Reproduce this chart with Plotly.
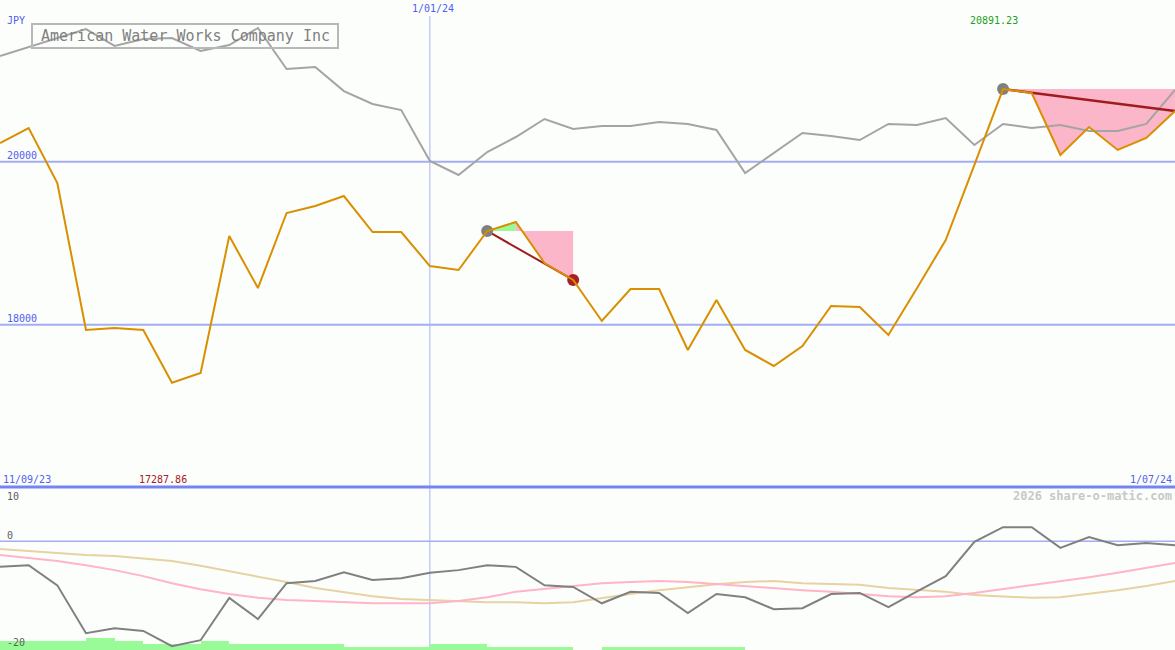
import pandas as pd
import plotly.graph_objects as go

# ---------------- data ----------------
dates = pd.date_range("2023-09-18", periods=42, freq="7D")

price = [20229, 20413, 19739, 17935, 17960, 17935, 17287.86, 17407, 19088, 18450,
         19371, 19456, 19579, 19137, 19137, 18720, 18671, 19150, 19260, 18757,
         18549, 18046, 18438, 18438, 17690, 18303, 17690, 17494, 17739, 18230,
         18217, 17874, 18450, 19039, 19960, 20891.23, 20843, 20082, 20426, 20144,
         20291, 20622]

compare = [21297, 21407, 21517, 21628, 21420, 21506, 21517, 21358, 21432, 21641,
           21137, 21162, 20867, 20708, 20634, 20009, 19837, 20119, 20303, 20524,
           20401, 20438, 20438, 20487, 20463, 20389, 19861, 20107, 20352, 20315,
           20266, 20463, 20450, 20536, 20205, 20463, 20413, 20450, 20377, 20377,
           20463, 20880]

osc = [-4.7, -4.4, -8.1, -16.9, -16.0, -16.5, -19.3, -18.2, -10.4, -14.3,
       -7.7, -7.3, -5.7, -7.1, -6.8, -5.8, -5.3, -4.4, -4.7, -8.1,
       -8.4, -11.4, -9.3, -9.5, -13.2, -9.7, -10.3, -12.5, -12.3, -9.7,
       -9.5, -12.1, -9.2, -6.4, -0.1, 2.6, 2.6, -1.2, 0.8, -0.7,
       -0.3, -0.7]

osc_pink = [-2.5, -3.1, -3.6, -4.4, -5.3, -6.4, -7.7, -8.8, -9.7, -10.4,
            -10.8, -11.0, -11.2, -11.4, -11.4, -11.4, -11.0, -10.3, -9.3, -8.8,
            -8.2, -7.7, -7.5, -7.3, -7.5, -7.9, -8.2, -8.6, -9.0, -9.3,
            -9.7, -10.1, -10.3, -10.1, -9.5, -8.8, -8.0, -7.3, -6.6, -5.8,
            -4.9, -4.0]

osc_tan = [-1.4, -1.8, -2.2, -2.5, -2.7, -3.1, -3.6, -4.5, -5.5, -6.4,
           -7.5, -8.6, -9.3, -10.1, -10.6, -10.8, -11.0, -11.2, -11.2, -11.4,
           -11.2, -10.4, -9.7, -9.0, -8.4, -7.9, -7.5, -7.3, -7.7, -7.9,
           -8.0, -8.6, -9.0, -9.3, -9.9, -10.1, -10.4, -10.3, -9.7, -9.0,
           -8.2, -7.3]

volume = [1.7, 1.7, 1.7, 2.2, 1.7, 1.1, 1.1, 1.7, 1.1, 1.1,
          1.1, 1.1, 0.55, 0.55, 0.55, 1.1, 1.1, 0.55, 0.55, 0.55,
          0.0, 0.55, 0.55, 0.55, 0.55, 0.55, 0, 0, 0, 0,
          0, 0, 0, 0, 0, 0, 0, 0, 0, 0, 0]

price_ticks = [20000, 18000]
osc_ticks = [10, 0, -20]
price_range = [16009, 21984]
osc_range = [-20, 10]

trend1 = [17, 18, 20]   # start, turn, end
trend2 = [35, 41]

title = "American Water Works Company Inc"
currency = "JPY"
start_label = "11/09/23"
mid_label = "1/01/24"
mid_date = "2024-01-01"
end_label = "1/07/24"
watermark = "2026 share-o-matic.com"

# ---------------- style ----------------
BG = "#fcfefc"
ORANGE = "#d98f00"
GRAY = "#a4a4a4"
DARKGRAY = "#808080"
PINK_FILL = "#fbb6c9"
GREEN_FILL = "#98fb98"
DARKRED = "#a01c1c"
GRID = "#a4acf2"
BLUE_TXT = "#5060f0"
MONO = "DejaVu Sans Mono"

W, H = 1175, 650
split = 1 - 487 / H

fig = go.Figure()

# fills for trends
s, t, e = trend1
lvl = price[s]
fig.add_trace(go.Scatter(
    x=[dates[s], dates[s], dates[t], dates[t]],
    y=[lvl, price[s], price[t], lvl],
    fill="toself", fillcolor=GREEN_FILL, line=dict(width=0), mode="lines",
    hoverinfo="skip"))
fig.add_trace(go.Scatter(
    x=[dates[t]] + list(dates[t:e + 1]) + [dates[e]],
    y=[lvl] + price[t:e + 1] + [lvl],
    fill="toself", fillcolor=PINK_FILL, line=dict(width=0), mode="lines",
    hoverinfo="skip"))
s2, e2 = trend2
lvl2 = price[s2]
fig.add_trace(go.Scatter(
    x=[dates[s2]] + list(dates[s2:e2 + 1]) + [dates[e2]],
    y=[lvl2] + price[s2:e2 + 1] + [lvl2],
    fill="toself", fillcolor=PINK_FILL, line=dict(width=0), mode="lines",
    hoverinfo="skip"))

# comparison line
fig.add_trace(go.Scatter(x=dates, y=compare, mode="lines",
                         line=dict(color=GRAY, width=2)))

# trend lines
fig.add_trace(go.Scatter(x=[dates[s], dates[e]], y=[price[s], price[e]], mode="lines",
                         line=dict(color=DARKRED, width=2)))
fig.add_trace(go.Scatter(x=[dates[s2], dates[e2]], y=[price[s2], price[e2]], mode="lines",
                         line=dict(color=DARKRED, width=2.5)))

# markers
fig.add_trace(go.Scatter(x=[dates[s], dates[s2]], y=[price[s], price[s2]], mode="markers",
                         marker=dict(color=DARKGRAY, size=12)))
fig.add_trace(go.Scatter(x=[dates[e]], y=[price[e]], mode="markers",
                         marker=dict(color="#a82020", size=12)))

# price line
fig.add_trace(go.Scatter(x=dates, y=price, mode="lines",
                         line=dict(color=ORANGE, width=2)))

# lower panel
vol_x = [d + pd.Timedelta(days=3.5) for d in dates[:len(volume)]]
fig.add_trace(go.Bar(x=vol_x, y=volume, base=osc_range[0], yaxis="y2",
                     width=7 * 24 * 3600 * 1000, marker=dict(color=GREEN_FILL, line=dict(width=0))))
fig.add_trace(go.Scatter(x=dates, y=osc_tan, yaxis="y2", mode="lines",
                         line=dict(color="#e6d2a2", width=2)))
fig.add_trace(go.Scatter(x=dates, y=osc_pink, yaxis="y2", mode="lines",
                         line=dict(color="#ffb4c8", width=2)))
fig.add_trace(go.Scatter(x=dates, y=osc, yaxis="y2", mode="lines",
                         line=dict(color=DARKGRAY, width=2)))

shapes = []
for v in price_ticks:
    shapes.append(dict(type="line", xref="paper", yref="y", x0=0, x1=1, y0=v, y1=v,
                       line=dict(color=GRID, width=2), layer="below"))
shapes.append(dict(type="line", xref="paper", yref="y2", x0=0, x1=1, y0=0, y1=0,
                   line=dict(color=GRID, width=1.5), layer="below"))
shapes.append(dict(type="line", xref="x", yref="paper", x0=mid_date, x1=mid_date,
                   y0=0, y1=1 - 16 / H, line=dict(color="#a8b2ee", width=1), layer="below"))
shapes.append(dict(type="line", xref="paper", yref="paper", x0=0, x1=1, y0=split, y1=split,
                   line=dict(color="#7484f2", width=3)))
shapes.append(dict(type="rect", xref="paper", yref="paper",
                   x0=32 / W, x1=338 / W, y0=1 - 48 / H, y1=1 - 24 / H,
                   line=dict(color="#b8b8b8", width=2), fillcolor="rgba(0,0,0,0)"))

def ann(text, x, y, color, size=10, xanchor="left", bold=False, xref="paper", yref="paper", **kw):
    if bold:
        text = "<b>" + text + "</b>"
    return dict(text=text, x=x, y=y, xref=xref, yref=yref, xanchor=xanchor, yanchor="middle",
                showarrow=False, font=dict(family=MONO, size=size, color=color), **kw)

imax = price.index(max(price))
imin = price.index(min(price))
annotations = [
    ann(title, 185 / W, 1 - 36.5 / H, "#808080", size=15, xanchor="center"),
    ann(currency, 5 / W, 1 - 20 / H, BLUE_TXT),
    ann(mid_label, mid_date, 1 - 9 / H, BLUE_TXT, xanchor="center", xref="x", xshift=3),
    ann(f"{max(price):.2f}", dates[imax], 1 - 21 / H, "#22a022", xanchor="center", xref="x", xshift=-9),
    ann(f"{min(price):.2f}", dates[imin], 1 - 479 / H, "#a82020", xanchor="center", xref="x", xshift=-9),
    ann(start_label, 1 / W, 1 - 479 / H, BLUE_TXT),
    ann(end_label, 1174 / W, 1 - 479 / H, BLUE_TXT, xanchor="right"),
    ann(watermark, 1174 / W, 1 - 496 / H, "#c8c8c8", size=12, xanchor="right", bold=True),
]
for v in price_ticks:
    annotations.append(ann(str(v), 5 / W, v, BLUE_TXT, yref="y", yshift=6))
osc_label_pos = {10: 496, 0: 535, -20: 642}
for v in osc_ticks:
    annotations.append(ann(str(v), 5 / W, 1 - osc_label_pos[v] / H, "#606060"))

fig.update_layout(
    width=W, height=H, margin=dict(l=0, r=0, t=0, b=0),
    paper_bgcolor=BG, plot_bgcolor=BG, showlegend=False,
    xaxis=dict(range=[dates[0], dates[-1]], visible=False, showgrid=False),
    yaxis=dict(range=price_range, domain=[split, 1], visible=False, showgrid=False),
    yaxis2=dict(range=osc_range, domain=[0, split], visible=False, showgrid=False, anchor="x"),
    shapes=shapes, annotations=annotations, bargap=0, hovermode=False,
)

fig.write_html(
    "out.html",
    config={"displayModeBar": False, "staticPlot": True},
    post_script="document.body.style.margin='0';document.body.style.padding='0';"
                "document.body.style.background='" + BG + "';"
                "document.documentElement.style.overflow='hidden';",
)
